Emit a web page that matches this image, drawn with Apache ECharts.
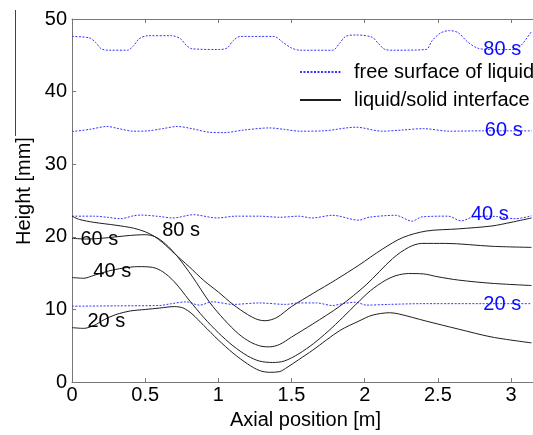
<!DOCTYPE html>
<html>
<head>
<meta charset="utf-8">
<script src="https://cdn.jsdelivr.net/npm/echarts@6/dist/echarts.min.js"></script>
<style>
  html, body { margin: 0; padding: 0; background: #fff; }
  #chart { width: 533px; height: 435px; }
</style>
</head>
<body>
<div id="chart"></div>
<script>
// Free surface of the liquid layer, [axial position m, height mm]
const surface80 = [[0,47.6],[0.12,47.4],[0.16,46.8],[0.2,45.9],[0.25,45.7],[0.38,45.7],[0.42,46.3],[0.46,47.3],[0.52,47.7],[0.68,47.7],[0.74,47.3],[0.78,46.4],[0.82,45.9],[1.0,45.8],[1.06,46.0],[1.1,47.0],[1.15,47.6],[1.38,47.6],[1.44,46.8],[1.5,46.0],[1.56,45.7],[1.78,45.7],[1.83,46.7],[1.87,47.6],[1.94,47.8],[2.05,47.5],[2.09,46.7],[2.14,45.8],[2.2,45.7],[2.42,45.8],[2.46,47.0],[2.52,48.1],[2.58,48.4],[2.64,48.1],[2.7,46.9],[2.77,46.0],[2.85,45.8],[3.02,45.8],[3.07,46.4],[3.14,48.3]];
const surface60 = [[0,34.5],[0.12,34.8],[0.24,35.2],[0.32,34.9],[0.42,34.55],[0.52,34.6],[0.62,34.9],[0.72,35.2],[0.82,34.9],[0.94,34.4],[1.04,34.35],[1.17,34.7],[1.35,35.0],[1.45,34.8],[1.56,34.55],[1.72,34.6],[1.94,35.1],[2.12,34.55],[2.25,34.7],[2.4,34.9],[2.58,34.55],[2.8,34.6],[3.14,34.6]];
const surface40 = [[0,22.85],[0.15,22.85],[0.24,22.7],[0.33,22.5],[0.42,22.9],[0.47,23.0],[0.6,22.8],[0.69,22.6],[0.83,23.05],[0.99,22.6],[1.12,22.85],[1.28,22.85],[1.42,22.7],[1.55,22.85],[1.64,22.6],[1.78,22.97],[1.96,22.3],[2.03,22.7],[2.21,22.97],[2.325,22.16],[2.39,22.75],[2.57,22.85],[2.66,22.2],[2.76,22.85],[2.9,22.8],[3.03,22.5],[3.14,22.9]];
const surface20 = [[0,10.45],[0.3,10.5],[0.6,10.55],[0.67,10.77],[0.78,11.05],[0.87,10.6],[0.96,11.05],[1.1,10.7],[1.28,10.9],[1.46,10.7],[1.55,10.9],[1.67,10.9],[1.78,10.55],[1.85,10.8],[1.94,11.0],[2.01,10.6],[2.17,10.7],[2.39,10.8],[2.8,10.8],[3.14,10.8]];

// Liquid/solid interface
const interface80 = [[0,22.85],[0.05,22.4],[0.15,22.0],[0.3,21.6],[0.42,21.2],[0.5,20.7],[0.56,20.1],[0.62,19.2],[0.7,17.7],[0.8,15.9],[0.9,14.0],[1.0,12.4],[1.1,10.7],[1.2,9.3],[1.27,8.6],[1.32,8.45],[1.4,8.9],[1.5,10.4],[1.65,12.25],[1.8,14.05],[1.96,16.1],[2.12,18.3],[2.26,19.9],[2.42,20.8],[2.64,21.1],[2.87,21.5],[3.0,22.0],[3.14,22.6]];
const interface60 = [[0,19.8],[0.1,19.7],[0.2,19.8],[0.3,20.0],[0.4,20.2],[0.5,20.3],[0.57,20.0],[0.64,19.0],[0.72,17.3],[0.82,14.6],[0.94,11.0],[1.04,8.6],[1.14,6.6],[1.22,5.5],[1.29,4.95],[1.35,4.85],[1.42,5.2],[1.5,6.2],[1.645,8.0],[1.83,10.45],[2.01,13.4],[2.19,17.0],[2.3,18.55],[2.39,19.1],[2.55,19.1],[2.87,18.7],[3.14,18.55]];
const interface40 = [[0,14.4],[0.08,14.3],[0.15,14.7],[0.25,15.3],[0.35,15.7],[0.45,15.9],[0.55,15.8],[0.62,15.2],[0.7,13.8],[0.8,11.3],[0.9,8.9],[1.0,6.8],[1.1,5.0],[1.2,3.6],[1.28,2.9],[1.37,2.7],[1.45,2.9],[1.55,3.9],[1.65,5.3],[1.75,7.0],[1.85,8.9],[1.94,10.7],[2.04,12.6],[2.14,14.0],[2.22,14.7],[2.3,14.95],[2.4,14.9],[2.5,14.5],[2.64,14.05],[2.87,13.6],[3.14,13.3]];
const interface20 = [[0,7.5],[0.08,7.4],[0.15,7.8],[0.22,8.6],[0.3,9.3],[0.4,9.8],[0.5,10.0],[0.6,10.2],[0.7,10.4],[0.76,10.2],[0.82,9.4],[0.9,7.8],[1.0,5.8],[1.1,4.0],[1.2,2.5],[1.28,1.6],[1.35,1.35],[1.42,1.45],[1.46,1.9],[1.55,3.1],[1.645,4.4],[1.83,7.1],[1.96,8.4],[2.05,9.2],[2.17,9.55],[2.23,9.4],[2.42,8.4],[2.64,7.3],[2.87,6.2],[3.14,5.4]];

// Time tags placed along the curves: [x, y, text]
const surfaceTags = [[2.94,45.8,'80 s'],[2.95,34.7,'60 s'],[2.855,23.1,'40 s'],[2.94,10.7,'20 s']];
const interfaceTags = [[0.745,20.9,'80 s'],[0.187,19.7,'60 s'],[0.275,15.3,'40 s'],[0.235,8.4,'20 s']];

const SURFACE = 'free surface of liquid';
const INTERFACE = 'liquid/solid interface';
const FONT = 'Liberation Sans, Arial, sans-serif';
const AXIS_COLOR = '#777';

function surfaceSeries(data) {
  return {
    name: SURFACE, type: 'line', data: data, smooth: 0.3,
    showSymbol: false, symbol: 'none', silent: true,
    lineStyle: { color: '#3535ff', width: 1, type: [2, 1.5] },
    itemStyle: { color: '#3535ff' }
  };
}
function interfaceSeries(data) {
  return {
    name: INTERFACE, type: 'line', data: data, smooth: 0.3,
    showSymbol: false, symbol: 'none', silent: true,
    lineStyle: { color: '#1e1e1e', width: 1, type: 'solid' },
    itemStyle: { color: '#1e1e1e' }
  };
}
function tagSeries(data, color) {
  return {
    type: 'scatter', data: data, symbolSize: 0, silent: true, z: 5,
    itemStyle: { opacity: 1 },
    label: {
      show: true, position: 'inside', formatter: p => p.value[2],
      fontFamily: FONT, fontSize: 20, color: color, opacity: 1
    }
  };
}

const chart = echarts.init(document.getElementById('chart'), null, { renderer: 'canvas' });

const xAxisBase = {
  type: 'value', min: 0, max: 3.15, interval: 0.5,
  axisLine: { show: true, onZero: false, lineStyle: { color: AXIS_COLOR, width: 1 } },
  axisTick: { show: true, inside: true, length: 4, lineStyle: { color: AXIS_COLOR } },
  splitLine: { show: false }
};

chart.setOption({
  animation: false,
  backgroundColor: '#fff',
  grid: { left: 72, top: 19, width: 463, height: 370, containLabel: false },
  xAxis: [
    Object.assign({}, xAxisBase, {
      position: 'bottom',
      name: 'Axial position [m]', nameLocation: 'middle', nameGap: 24,
      nameTextStyle: { fontFamily: FONT, fontSize: 20, color: '#000', padding: [0, 0, 0, 6] },
      axisLabel: { show: true, margin: 3, showMaxLabel: false, fontFamily: FONT, fontSize: 20, color: '#000' }
    }),
    Object.assign({}, xAxisBase, { position: 'top', axisLabel: { show: false } })
  ],
  yAxis: {
    type: 'value', min: 0, max: 50, interval: 10,
    axisLine: { show: true, lineStyle: { color: AXIS_COLOR, width: 1 } },
    axisTick: { show: true, inside: true, length: 4, lineStyle: { color: AXIS_COLOR } },
    splitLine: { show: false },
    axisLabel: { margin: 5, fontFamily: FONT, fontSize: 20, color: '#000' }
  },
  legend: {
    orient: 'vertical', left: 299, top: 62, padding: 0,
    itemWidth: 41, itemHeight: 14, itemGap: 8,
    data: [SURFACE, INTERFACE],
    itemStyle: { opacity: 0 },
    textStyle: { fontFamily: FONT, fontSize: 20, color: '#000', padding: [0, 0, 0, 8] }
  },
  graphic: [
    {
      type: 'text', x: 24, y: 191, rotation: Math.PI / 2, silent: true,
      style: { text: 'Height [mm]', font: '20px ' + FONT, fill: '#000', textAlign: 'center', textVerticalAlign: 'middle' }
    },
    {
      type: 'line', silent: true,
      shape: { x1: 15.5, y1: 10, x2: 15.5, y2: 136 },
      style: { stroke: '#444', lineWidth: 1 }
    }
  ],
  series: [
    surfaceSeries(surface80), surfaceSeries(surface60), surfaceSeries(surface40), surfaceSeries(surface20),
    interfaceSeries(interface80), interfaceSeries(interface60), interfaceSeries(interface40), interfaceSeries(interface20),
    tagSeries(surfaceTags, '#0a0aff'), tagSeries(interfaceTags, '#000')
  ]
});
</script>
</body>
</html>
